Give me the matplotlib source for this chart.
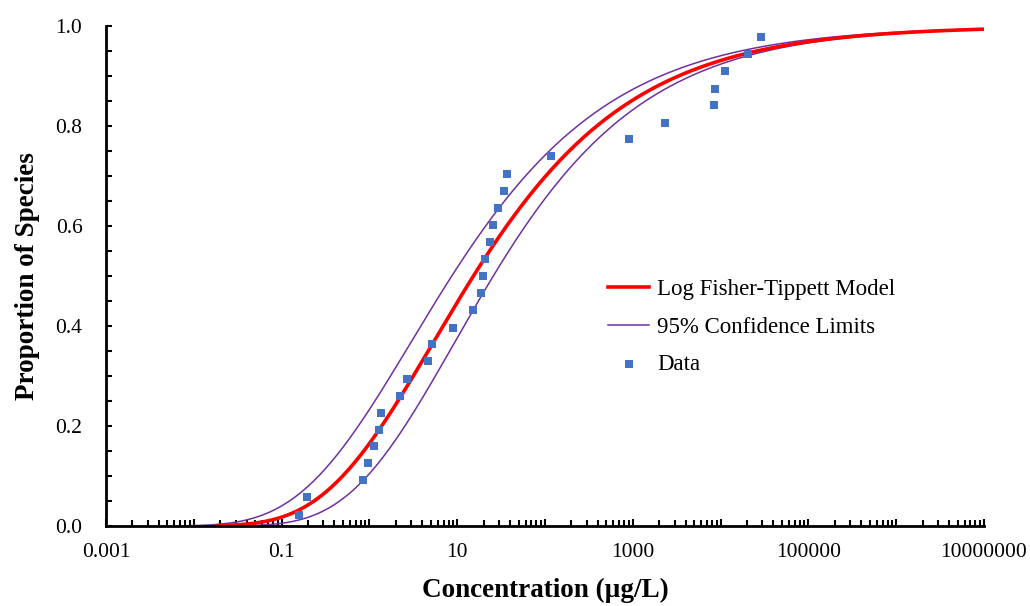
import numpy as np
import matplotlib
matplotlib.use("Agg")
import matplotlib.pyplot as plt
from matplotlib.ticker import FixedLocator, MultipleLocator, NullFormatter

plt.rcParams['font.family'] = ['Liberation Serif', 'DejaVu Serif']

# species sensitivity data (ug/L) and plotting positions
conc = [0.158, 0.195, 0.85, 0.97, 1.12, 1.29, 1.37, 2.21, 2.68, 4.71,
        5.14, 8.9, 15.3, 18.7, 19.6, 20.5, 23.8, 25.9, 28.8, 33.7,
        37.4, 116, 896, 2300, 8400, 8600, 11200, 20600, 29000]
proportion = [0.022, 0.058, 0.092, 0.127, 0.160, 0.193, 0.227, 0.261, 0.295, 0.330,
              0.364, 0.397, 0.432, 0.467, 0.500, 0.534, 0.569, 0.602, 0.637, 0.671,
              0.705, 0.740, 0.774, 0.807, 0.842, 0.875, 0.910, 0.944, 0.979]

# log Fisher-Tippett (Gumbel on log10 conc) fit and confidence limits: (location, scale)
fit_params = (0.73, 1.24)
upper_params = (0.475, 1.263)
lower_params = (0.973, 1.195)

x_ticks = [0.001, 0.01, 0.1, 1, 10, 100, 1000, 10000, 100000, 1000000, 10000000]
x_labels = ['0.001', '', '0.1', '', '10', '', '1000', '', '100000', '', '10000000']
y_ticks = [0.0, 0.2, 0.4, 0.6, 0.8, 1.0]


def gumbel_cdf(x, params):
    loc, scale = params
    return np.exp(-np.exp(-(np.log10(x) - loc) / scale))


fig = plt.figure(figsize=(10.3, 6.06), dpi=100)
ax = fig.add_axes([106 / 1030, 1 - 526 / 606, (984 - 106) / 1030, 500 / 606])

x_fit = np.logspace(np.log10(0.019), 7, 400)
x_ci = np.logspace(np.log10(0.0085), 7, 400)

purple = '#7030A0'
ax.plot(x_ci, gumbel_cdf(x_ci, upper_params), color=purple, lw=1.1, zorder=2)
ax.plot(x_ci, gumbel_cdf(x_ci, lower_params), color=purple, lw=1.1, zorder=2,
        label='95% Confidence Limits')
ax.plot(x_fit, gumbel_cdf(x_fit, fit_params), color='#FF0000', lw=2.6, zorder=3,
        label='Log Fisher-Tippett Model')
ax.scatter(conc, proportion, marker='s', s=40, color='#4472C4', linewidths=0,
           zorder=4, label='Data')

ax.set_xscale('log')
ax.set_xlim(0.001, 10000000)
ax.set_ylim(0, 1.0)
ax.xaxis.set_major_locator(FixedLocator(x_ticks))
ax.set_xticklabels(x_labels)
ax.xaxis.set_minor_locator(matplotlib.ticker.LogLocator(base=10, subs=np.arange(2, 10), numticks=20))
ax.xaxis.set_minor_formatter(NullFormatter())
ax.set_yticks(y_ticks)
ax.set_yticklabels(['%.1f' % v for v in y_ticks])
ax.yaxis.set_minor_locator(MultipleLocator(0.05))

for side in ['top', 'right']:
    ax.spines[side].set_visible(False)
for side in ['left', 'bottom']:
    ax.spines[side].set_linewidth(2)
    ax.spines[side].set_zorder(5)

ax.tick_params(axis='both', which='both', direction='in', width=1.5, labelsize=15.5, colors='black')
ax.tick_params(axis='x', which='major', length=5, pad=12)
ax.tick_params(axis='x', which='minor', length=4)
ax.tick_params(axis='y', which='both', length=4, pad=17)

ax.set_xlabel('Concentration (µg/L)', fontsize=19.5, fontweight='bold', labelpad=12)
ax.set_ylabel('Proportion of Species', fontsize=19.5, fontweight='bold', labelpad=11)

handles, labels = ax.get_legend_handles_labels()
order = [1, 0, 2]
ax.legend([handles[i] for i in order], [labels[i] for i in order],
          loc='upper left', bbox_to_anchor=(608 / 1030, 1 - 279 / 606),
          bbox_transform=fig.transFigure, frameon=False, fontsize=16.5,
          handlelength=1.8, handletextpad=0.35, labelspacing=0.72,
          borderpad=0, borderaxespad=0, markerscale=1.0)

fig.savefig('out.png', dpi=100)
